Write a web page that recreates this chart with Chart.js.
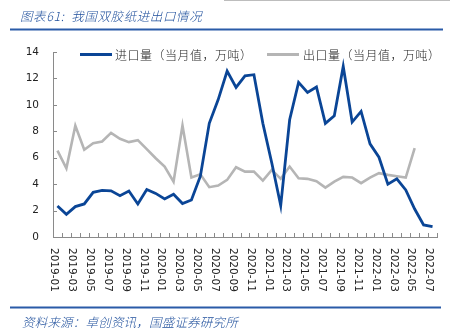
<!DOCTYPE html>
<html>
<head>
<meta charset="utf-8">
<script src="https://cdn.jsdelivr.net/npm/chart.js@4/dist/chart.umd.min.js"></script>
<style>
  html, body { margin: 0; padding: 0; background: #fff; }
  #wrap { width: 454px; height: 333px; position: relative; }
</style>
</head>
<body>
<div id="wrap"><canvas id="c" width="454" height="333"></canvas></div>
<script>
const months = ['2019-01','2019-02','2019-03','2019-04','2019-05','2019-06','2019-07','2019-08','2019-09','2019-10','2019-11','2019-12',
  '2020-01','2020-02','2020-03','2020-04','2020-05','2020-06','2020-07','2020-08','2020-09','2020-10','2020-11','2020-12',
  '2021-01','2021-02','2021-03','2021-04','2021-05','2021-06','2021-07','2021-08','2021-09','2021-10','2021-11','2021-12',
  '2022-01','2022-02','2022-03','2022-04','2022-05','2022-06','2022-07'];

const importVol = [2.35,1.72,2.3,2.5,3.38,3.53,3.49,3.13,3.48,2.5,3.59,3.3,
  2.88,3.24,2.53,2.8,4.6,8.6,10.4,12.55,11.32,12.2,12.28,8.6,
  5.6,2.38,8.87,11.7,10.94,11.35,8.6,9.17,12.91,8.7,9.5,7.05,
  6.04,4.0,4.4,3.56,2.12,0.91,0.78];

const exportVol = [6.54,5.2,8.42,6.6,7.1,7.23,7.88,7.43,7.18,7.33,6.65,5.96,
  5.33,4.19,8.44,4.5,4.75,3.77,3.89,4.32,5.28,4.95,4.95,4.27,
  5.08,4.4,5.33,4.45,4.4,4.22,3.74,4.19,4.55,4.5,4.07,4.5,
  4.83,4.7,4.6,4.5,6.72,null,null];

const yTicks = [0, 2, 4, 6, 8, 10, 12, 14];

const title = '图表61:  我国双胶纸进出口情况';
const source = '资料来源：卓创资讯，国盛证券研究所';

const BLUE = '#0a4596';
const GREY = '#b5b5b5';
const TXT_BLUE = '#1f4f9c';

const decor = {
  id: 'decor',
  afterDraw(chart) {
    const ctx = chart.ctx;
    const xs = chart.scales.x, ys = chart.scales.y;
    ctx.save();

    // top strip + title
    ctx.fillStyle = '#bdbdbd';
    ctx.fillRect(224, 0, 226, 1);
    ctx.fillStyle = TXT_BLUE;
    ctx.font = 'italic 300 12.5px "Noto Sans CJK SC"';
    ctx.letterSpacing = '0.6px';
    ctx.textBaseline = 'middle';
    ctx.fillText(title, 20, 16);
    ctx.fillStyle = '#2a5ba8';
    ctx.fillRect(10, 28.5, 433, 2);

    // footer
    ctx.fillRect(10, 306.5, 431, 2);
    ctx.fillStyle = TXT_BLUE;
    ctx.letterSpacing = '0.2px';
    ctx.fillText(source, 22, 322);
    ctx.letterSpacing = '0px';

    // inward tick marks
    ctx.strokeStyle = '#8a8a8a';
    ctx.lineWidth = 1;
    ctx.beginPath();
    yTicks.forEach(v => {
      const py = Math.round(ys.getPixelForValue(v)) + 0.5;
      ctx.moveTo(ys.right, py);
      ctx.lineTo(ys.right + 4, py);
    });
    const step = (xs.right - xs.left) / months.length;
    for (let i = 0; i <= months.length; i++) {
      const px = Math.round(xs.left + i * step) + 0.5;
      ctx.moveTo(px, xs.top);
      ctx.lineTo(px, xs.top - 4);
    }
    ctx.stroke();

    // rotated date labels
    ctx.fillStyle = '#222';
    ctx.font = '10.5px "DejaVu Sans"';
    ctx.textAlign = 'left';
    ctx.textBaseline = 'middle';
    months.forEach((m, i) => {
      if (i % 2) return;
      const px = xs.getPixelForValue(i) - 3.5;
      ctx.save();
      ctx.translate(px, xs.top + 11);
      ctx.rotate(Math.PI / 2);
      ctx.fillText(m, 0, 0);
      ctx.restore();
    });

    // legend
    const items = [[80, 115], [267, 303]];
    ctx.font = '300 12px "Noto Sans CJK SC"';
    ctx.letterSpacing = '0.5px';
    chart.data.datasets.forEach((ds, k) => {
      const [lx, tx] = items[k];
      ctx.strokeStyle = ds.borderColor;
      ctx.lineWidth = 3;
      ctx.beginPath();
      ctx.moveTo(lx, 54.5);
      ctx.lineTo(lx + 32, 54.5);
      ctx.stroke();
      ctx.fillStyle = '#222';
      ctx.fillText(ds.label, tx, 55);
    });
    ctx.restore();
  }
};

new Chart(document.getElementById('c'), {
  type: 'line',
  data: {
    labels: months,
    datasets: [
      { label: '进口量（当月值，万吨）', data: importVol, borderColor: BLUE, borderWidth: 2.8, pointRadius: 0, tension: 0 },
      { label: '出口量（当月值，万吨）', data: exportVol, borderColor: GREY, borderWidth: 2.6, pointRadius: 0, tension: 0 }
    ]
  },
  options: {
    responsive: false,
    animation: false,
    events: [],
    layout: { padding: { left: 0, right: 17, top: 52, bottom: 0 } },
    plugins: { legend: { display: false }, tooltip: { enabled: false } },
    scales: {
      x: {
        offset: true,
        grid: { display: false, drawTicks: false },
        border: { color: '#8a8a8a', width: 1 },
        ticks: { display: false },
        afterFit(s) { s.height = 96; }
      },
      y: {
        min: 0, max: 14,
        grid: { display: false, drawTicks: false },
        border: { color: '#8a8a8a', width: 1 },
        ticks: { stepSize: 2, padding: 14, color: '#222', font: { family: 'DejaVu Sans', size: 10.5 } },
        afterFit(s) { s.width = 53; }
      }
    }
  },
  plugins: [decor]
});
</script>
</body>
</html>
